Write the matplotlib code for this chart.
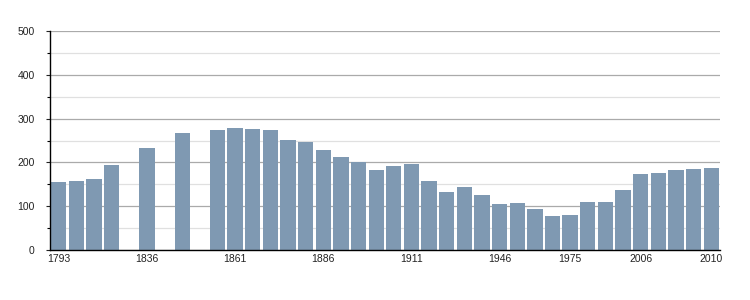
import numpy as np
import matplotlib.pyplot as plt
from matplotlib.ticker import MultipleLocator

years = [1793, 1800, 1806, 1821, 1831, 1836, 1841, 1846, 1851, 1856,
         1861, 1866, 1872, 1876, 1881, 1886, 1891, 1896, 1901, 1906,
         1911, 1921, 1926, 1931, 1936, 1946, 1954, 1962, 1968, 1975,
         1982, 1990, 1999, 2006, 2007, 2008, 2009, 2010]
population = [155, 157, 162, 194, np.nan, 233, np.nan, 267, np.nan, 274,
              278, 276, 274, 251, 246, 228, 212, 201, 182, 191,
              196, 157, 132, 144, 125, 105, 107, 94, 78, 80,
              109, 109, 137, 173, 175, 182, 185, 187]
labelled_years = [1793, 1836, 1861, 1886, 1911, 1946, 1975, 2006, 2010]

plt.rcParams['font.family'] = ['Liberation Sans', 'DejaVu Sans']

fig = plt.figure(figsize=(7.5, 3), dpi=100)
ax = fig.add_axes([50 / 750, 50 / 300, 670 / 750, 219 / 300])

x = np.arange(len(years))
vals = np.array(population, dtype=float)
mask = ~np.isnan(vals)
ax.bar(x[mask], vals[mask], width=0.87, color='#7f99b2', zorder=3)

ax.set_xlim(-0.5, len(years) - 0.5)
ax.set_ylim(0, 500)
ax.yaxis.set_major_locator(MultipleLocator(100))
ax.yaxis.set_minor_locator(MultipleLocator(50))
ax.grid(axis='y', which='major', color='#aaaaaa', linewidth=0.9, zorder=0)
ax.grid(axis='y', which='minor', color='#e0e0e0', linewidth=0.9, zorder=0)
ax.grid(axis='x', visible=False)

ticks = [years.index(y) for y in labelled_years]
ax.set_xticks(ticks)
ax.set_xticklabels([str(y) for y in labelled_years])
ax.tick_params(axis='x', length=0, pad=3, labelsize=7.5, colors='#222222')
ax.tick_params(axis='y', which='major', length=3, width=0.8, pad=8, labelsize=7.5, colors='#222222')
ax.tick_params(axis='y', which='minor', length=2, width=0.8)

for side in ['top', 'right']:
    ax.spines[side].set_visible(False)
for side in ['left', 'bottom']:
    ax.spines[side].set_color('black')
    ax.spines[side].set_linewidth(1.0)
    ax.spines[side].set_zorder(4)

fig.savefig('out.png', dpi=100)
